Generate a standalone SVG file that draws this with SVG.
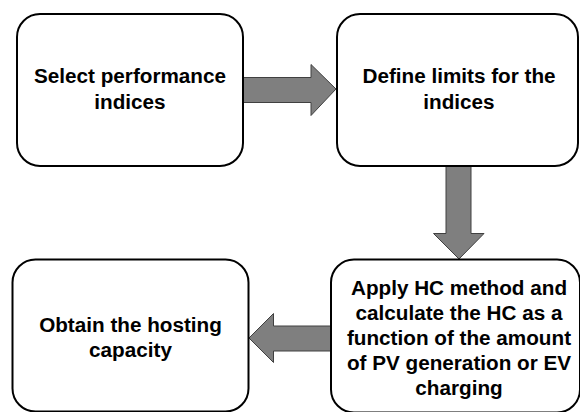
<svg xmlns="http://www.w3.org/2000/svg" width="580" height="412" viewBox="0 0 580 412">
  <style>
    .box { fill: #ffffff; stroke: #000000; stroke-width: 2; }
    .arrow { fill: #7f7f7f; stroke: #404040; stroke-width: 1; }
    .label { font-family: "Liberation Sans", Arial, sans-serif; font-weight: bold; font-size: 20.7px; fill: #000000; text-anchor: middle; }
  </style>
  <rect width="580" height="412" fill="#ffffff"/>

  <!-- block arrows between the steps -->
  <g id="connectors">
    <polygon class="arrow" points="243,77.5 311,77.5 311,64.5 336,89 311,115.5 311,102.5 243,102.5"/>
    <polygon class="arrow" points="446,166 471,166 471,233.5 484,233.5 459,259 433.5,233.5 446,233.5"/>
    <polygon class="arrow" points="331,326 273.5,326 273.5,313.5 249,338 273.5,362.5 273.5,351 331,351"/>
  </g>

  <g id="step-select">
    <rect class="box" x="17" y="14" width="226" height="152" rx="23" ry="23"/>
    <text class="label" x="130" y="83">Select performance</text>
    <text class="label" x="130" y="108.5">indices</text>
  </g>

  <g id="step-limits">
    <rect class="box" x="337" y="14" width="241" height="152" rx="23" ry="23"/>
    <text class="label" x="459" y="83">Define limits for the</text>
    <text class="label" x="459" y="108.5">indices</text>
  </g>

  <g id="step-apply">
    <rect class="box" x="331" y="259.5" width="249" height="153" rx="23" ry="23"/>
    <text class="label" x="459" y="294.5">Apply HC method and</text>
    <text class="label" x="459" y="319.5">calculate the HC as a</text>
    <text class="label" x="459" y="344.5">function of the amount</text>
    <text class="label" x="459" y="369.5">of PV generation or EV</text>
    <text class="label" x="459" y="394.5">charging</text>
  </g>

  <g id="step-obtain">
    <rect class="box" x="12.5" y="259.5" width="236" height="152" rx="23" ry="23"/>
    <text class="label" x="130.5" y="332">Obtain the hosting</text>
    <text class="label" x="130.5" y="357">capacity</text>
  </g>
</svg>
